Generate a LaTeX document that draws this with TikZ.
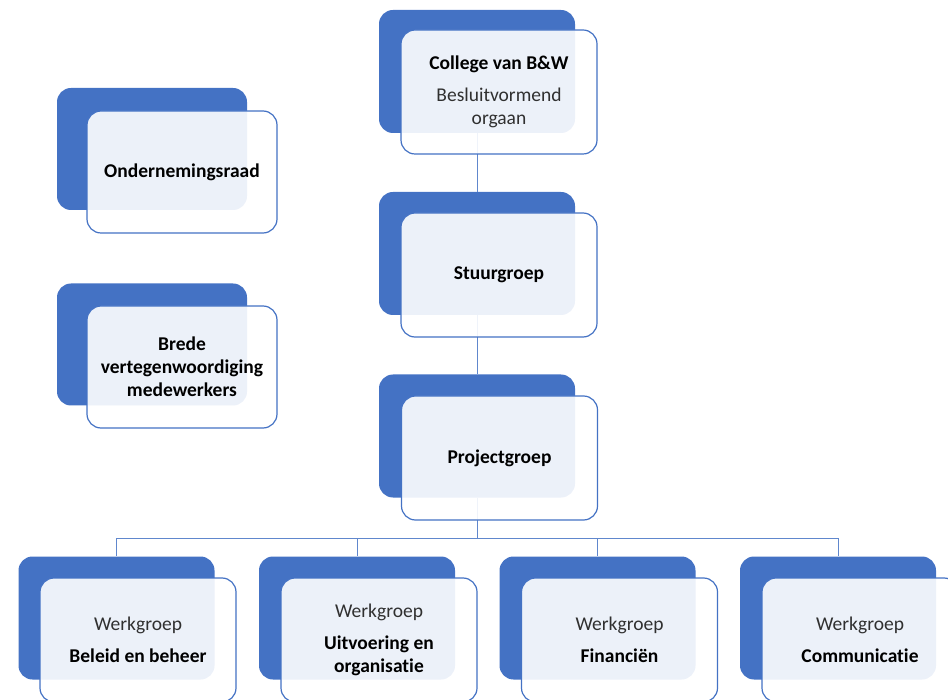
\documentclass[tikz,border=0pt]{standalone}
\usepackage{fontspec}
\setmainfont[Ligatures=NoCommon]{Carlito}
\definecolor{smblue}{HTML}{4472C4}
\definecolor{subgray}{HTML}{303030}
\tikzset{
  back/.style={fill=smblue, rounded corners=14pt, minimum width=196pt, minimum height=123pt},
  front/.style={draw=smblue, line width=1.2pt, fill=white, fill opacity=0.9, text opacity=1,
    rounded corners=14pt, minimum width=196pt, minimum height=124pt, align=center,
    font=\fontsize{19.5}{23}\selectfont},
  side/.style={minimum width=190pt, minimum height=122pt},
  link/.style={draw=smblue!85, line width=1pt},
}
\newcommand{\sub}[1]{\textcolor{subgray}{#1}}
\begin{document}
\begin{tikzpicture}[x=1pt, y=-1pt]
\useasboundingbox (0,0) rectangle (948,700);
% back boxes
\node[back] (college-back) at (477,71.5){};
\node[back] (stuur-back) at (477,253.5){};
\node[back] (project-back) at (477,436){};
\node[back, side] (or-back) at (152,149){};
\node[back, side] (brede-back) at (152,344.5){};
\node[back] (wg1-back) at (116.5,618){};
\node[back] (wg2-back) at (357,618){};
\node[back] (wg3-back) at (597.5,618){};
\node[back] (wg4-back) at (838,618){};
% connectors
\coordinate (bus) at (477,538);
\draw[link] (college-back.south) -- (stuur-back.north);
\draw[link] (stuur-back.south) -- (project-back.north);
\draw[link] (project-back.south) -- (bus);
\draw[link] (bus) -| (wg1-back.north);
\draw[link] (bus) -| (wg2-back.north);
\draw[link] (bus) -| (wg3-back.north);
\draw[link] (bus) -| (wg4-back.north);
% front boxes
\node[front] (college) at (499,92){\textbf{College van B\&W}\\[9pt]\sub{Besluitvormend}\\\sub{orgaan}};
\node[front] (stuur) at (499,275){\textbf{Stuurgroep}};
\node[front] (project) at (499.5,458){\textbf{Projectgroep}};
\node[front, side] (or) at (182,172){\textbf{Ondernemingsraad}};
\node[front, side] (brede) at (182,367){\textbf{Brede}\\\textbf{vertegenwoordiging}\\\textbf{medewerkers}};
\node[front] (wg1) at (138,640){\sub{Werkgroep}\\[9pt]\textbf{Beleid en beheer}};
\node[front] (wg2) at (379,640){\sub{Werkgroep}\\[9pt]\textbf{Uitvoering en}\\\textbf{organisatie}};
\node[front] (wg3) at (619.5,640){\sub{Werkgroep}\\[9pt]\textbf{Financiën}};
\node[front] (wg4) at (860,640){\sub{Werkgroep}\\[9pt]\textbf{Communicatie}};
\end{tikzpicture}
\end{document}
